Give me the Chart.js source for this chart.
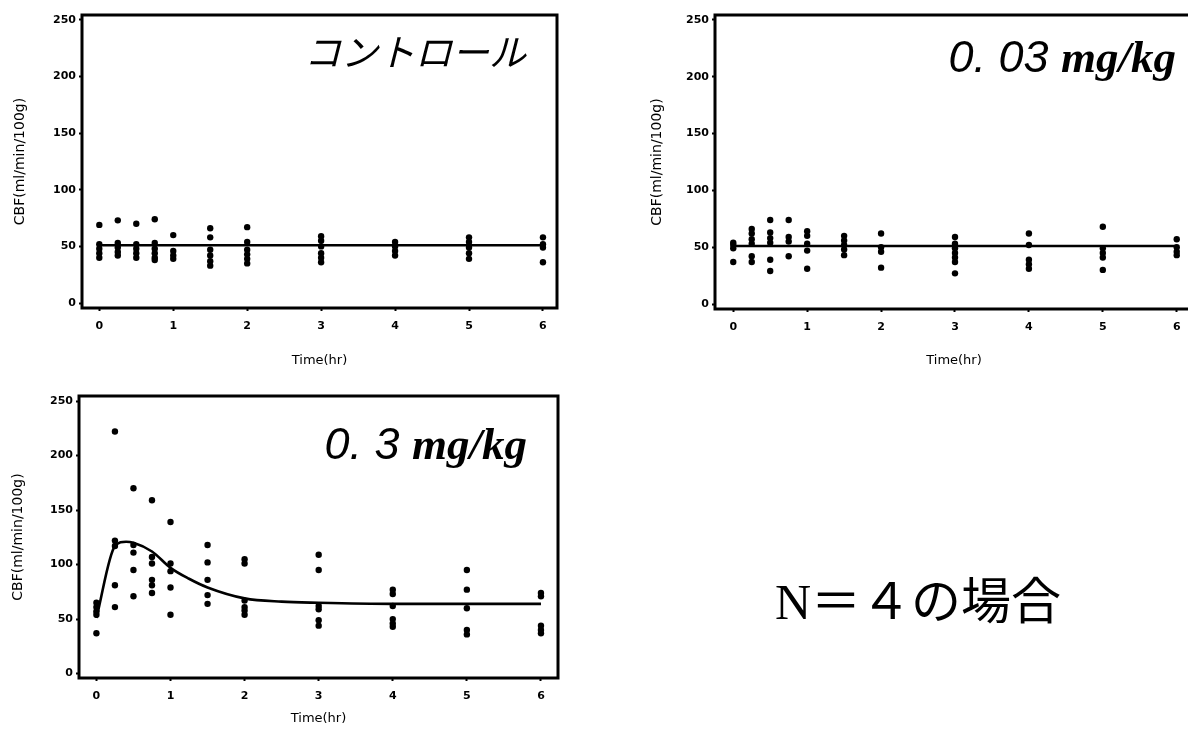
<!DOCTYPE html>
<html>
<head>
<meta charset="utf-8">
<script src="https://cdn.jsdelivr.net/npm/chart.js@4.4.1/dist/chart.umd.min.js"></script>
<style>
  html, body { margin: 0; padding: 0; background: #fff; overflow: hidden; }
  body { width: 1188px; height: 735px; position: relative; }
  canvas { position: absolute; }
  .lbl { position: absolute; white-space: nowrap; color: #000; line-height: 1; }
  .sans { font-family: "Liberation Sans", Arial, sans-serif; font-style: italic; font-size: 45px; }
  .serif { font-family: "Liberation Serif", serif; font-style: italic; font-weight: bold; }
</style>
</head>
<body>
<canvas id="c1" width="575" height="380" style="left:0;top:0"></canvas>
<canvas id="c2" width="575" height="380" style="left:630px;top:0"></canvas>
<canvas id="c3" width="575" height="355" style="left:0;top:380px"></canvas>

<div class="lbl" style="left:304px;top:32px;font-family:'Noto Sans CJK JP';font-style:italic;font-size:37px;">コントロール</div>
<div class="lbl sans" style="right:12px;top:34px;">0.&nbsp;03 <span class="serif">mg/kg</span></div>
<div class="lbl sans" style="right:661px;top:421px;">0.&nbsp;3 <span class="serif">mg/kg</span></div>
<div class="lbl" style="left:775px;top:572px;font-size:50px;font-family:'Liberation Serif','Noto Sans CJK JP',serif;">N<span style="font-family:'Noto Sans CJK JP'">＝４の場合</span></div>

<script>
// sampling times (hr) and axis ticks
const sampleTimes = [0, 0.25, 0.5, 0.75, 1, 1.5, 2, 3, 4, 5, 6];
const xTicks = [0, 1, 2, 3, 4, 5, 6];
const yTicks = [0, 50, 100, 150, 200, 250];

// control: CBF values at each sampling time
const ctlObs = [
  [69, 52, 48, 44, 40],
  [73, 53, 49, 45, 42],
  [70, 52, 48, 44, 40],
  [74, 53, 48, 44, 40, 38],
  [60, 46, 42, 39],
  [66, 58, 47, 42, 37, 33],
  [67, 54, 47, 43, 39, 35],
  [59, 55, 50, 44, 40, 36],
  [54, 50, 46, 42],
  [58, 54, 49, 44, 39],
  [58, 52, 49, 36]
];
const ctlFitT = [0, 6];
const ctlFitV = [51, 51];

// 0.03 mg/kg
const lowObs = [
  [54, 52, 49, 37],
  [66, 62, 57, 53, 42, 37],
  [74, 63, 58, 54, 39, 29],
  [74, 59, 55, 42],
  [64, 60, 53, 47, 31],
  [60, 56, 52, 48, 43],
  [62, 50, 46, 32],
  [59, 53, 49, 45, 41, 37, 27],
  [62, 52, 39, 35, 31],
  [68, 49, 45, 41, 30],
  [57, 50, 46, 43]
];
const lowFitT = [0, 6];
const lowFitV = [51, 51];

// 0.3 mg/kg
const highObs = [
  [65, 61, 57, 54, 37],
  [222, 122, 117, 81, 61],
  [170, 118, 111, 95, 71],
  [159, 107, 101, 86, 81, 74],
  [139, 101, 94, 79, 54],
  [118, 102, 86, 72, 64],
  [105, 101, 67, 61, 58, 54],
  [109, 95, 62, 59, 49, 44],
  [77, 73, 62, 50, 46, 43],
  [95, 77, 60, 40, 36],
  [74, 71, 44, 40, 37]
];
const highFitT = [0, 0.25, 0.4, 0.5, 0.75, 1, 1.25, 1.5, 2, 2.5, 3, 4, 5, 6];
const highFitV = [51, 117, 121, 120, 112, 97, 87, 79, 69, 66, 65, 64, 64, 64];

// box around the plot area
const frame = {
  id: 'frame',
  afterDatasetsDraw(chart) {
    const a = chart.chartArea, ctx = chart.ctx;
    ctx.save();
    ctx.strokeStyle = '#000';
    ctx.lineWidth = 3;
    ctx.strokeRect(a.left, a.top, a.right - a.left, a.bottom - a.top);
    ctx.restore();
  }
};

function drawPanel(p) {
  const pts = [];
  p.obs.forEach((vals, i) => vals.forEach(v => pts.push({ x: sampleTimes[i], y: v })));
  const fit = p.fitT.map((t, i) => ({ x: t, y: p.fitV[i] }));
  const tickFont = { family: 'DejaVu Sans', size: 11, weight: 'bold' };
  const titleFont = { family: 'DejaVu Sans', size: 14 };

  new Chart(document.getElementById(p.id), {
    type: 'scatter',
    data: {
      datasets: [
        { data: pts, backgroundColor: '#000', borderColor: '#000', pointRadius: 3.2, pointBorderWidth: 0 },
        { data: fit, showLine: true, borderColor: '#000', borderWidth: 2.6, pointRadius: 0,
          cubicInterpolationMode: 'monotone', fill: false }
      ]
    },
    options: {
      responsive: false,
      animation: false,
      layout: { padding: p.pad },
      plugins: { legend: { display: false }, tooltip: { enabled: false } },
      scales: {
        x: {
          type: 'linear', min: p.x[0], max: p.x[1],
          afterBuildTicks: s => { s.ticks = xTicks.map(v => ({ value: v })); },
          afterFit: s => { s.height = p.xH; },
          grid: { drawOnChartArea: false, tickLength: 3, tickWidth: 2, color: '#000' },
          border: { display: false },
          ticks: { color: '#000', font: tickFont, padding: 9, maxRotation: 0 },
          title: { display: true, text: 'Time(hr)', color: '#000', font: { family: 'DejaVu Sans', size: 13 }, padding: 0 }
        },
        y: {
          type: 'linear', min: p.y[0], max: p.y[1],
          afterBuildTicks: s => { s.ticks = yTicks.map(v => ({ value: v })); },
          afterFit: s => { s.width = p.yW; },
          grid: { drawOnChartArea: false, tickLength: 3, tickWidth: 2, color: '#000' },
          border: { display: false },
          ticks: { color: '#000', font: tickFont, padding: 3 },
          title: { display: true, text: 'CBF(ml/min/100g)', color: '#000', font: titleFont, padding: 0 }
        }
      }
    },
    plugins: [frame]
  });
}

drawPanel({ id: 'c1', obs: ctlObs, fitT: ctlFitT, fitV: ctlFitV, x: [-0.234, 6.19], y: [-4.4, 254.4],
  pad: { left: 12, top: 15, right: 18, bottom: 12 }, yW: 70, xH: 60 });
drawPanel({ id: 'c2', obs: lowObs, fitT: lowFitT, fitV: lowFitV, x: [-0.247, 6.22], y: [-4.4, 254.4],
  pad: { left: 19, top: 15, right: 12, bottom: 12 }, yW: 66, xH: 59 });
drawPanel({ id: 'c3', obs: highObs, fitT: highFitT, fitV: highFitV, x: [-0.235, 6.23], y: [-4, 254.6],
  pad: { left: 10, top: 16, right: 17, bottom: 9 }, yW: 69, xH: 48 });
</script>
</body>
</html>
